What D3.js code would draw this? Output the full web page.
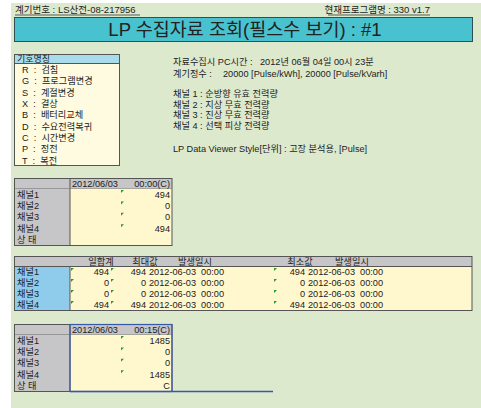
<!DOCTYPE html>
<html><head><meta charset="utf-8">
<script src="https://cdn.jsdelivr.net/npm/d3@7"></script>
<style>
html,body{margin:0;padding:0;background:#fff;}
svg text{font-family:"Liberation Sans","Noto Sans CJK KR",sans-serif;fill:#222;}
</style></head>
<body>
<svg id="c" width="481" height="408"></svg>
<script>
// ---- data ----
const meterNo = "계기번호 : LS산전-08-217956";
const programName = "현재프로그램명 : 330 v1.7";
const title = "LP 수집자료 조회(필스수 보기) : #1";
const legendTitle = "기호명칭";
const legendCodes = ["R","G","S","X","B","D","C","P","T"];
const legendNames = ["검침","프로그램변경","계절변경","결상","배터리교체","수요전력복귀","시간변경","정전","복전"];
const infoLabels = ["자료수집시 PC시간 :","계기정수 :"];
const infoValues = ["2012년 06월 04일 00시 23분","20000 [Pulse/kWh], 20000 [Pulse/kVarh]"];
const channelDesc = ["채널 1 : 순방향 유효 전력량","채널 2 : 지상 무효 전력량","채널 3 : 진상 무효 전력량","채널 4 : 선택 피상 전력량"];
const viewerStyle = "LP Data Viewer Style[단위] : 고장 분석용, [Pulse]";
const channels = ["채널1","채널2","채널3","채널4"];
const rowLabels = ["채널1","채널2","채널3","채널4","상 태"];
const lp1Date = "2012/06/03", lp1Time = "00:00(C)";
const lp1Values = ["494","0","0","494",""];
const lp2Date = "2012/06/03", lp2Time = "00:15(C)";
const lp2Values = ["1485","0","0","1485","C"];
const sumHeaders = ["일합계","최대값","발생일시","최소값","발생일시"];
const dailySum = [494,0,0,494];
const maxVal = [494,0,0,494];
const maxTime = ["2012-06-03  00:00","2012-06-03  00:00","2012-06-03  00:00","2012-06-03  00:00"];
const minVal = [494,0,0,494];
const minTime = ["2012-06-03  00:00","2012-06-03  00:00","2012-06-03  00:00","2012-06-03  00:00"];

// ---- drawing ----
const FS = 9.2;
const svg = d3.select("#c");
const BG = "#dde9cd";
svg.append("rect").attr("x",11).attr("y",3).attr("width",470).attr("height",405).attr("fill",BG);

// header line
svg.append("text").attr("x",15).attr("y",12.5).attr("font-size",9.5).text(meterNo);
svg.append("line").attr("x1",15).attr("x2",140).attr("y1",15).attr("y2",15).attr("stroke","#333").attr("stroke-width",0.8);
svg.append("text").attr("x",430).attr("y",12.5).attr("font-size",9.5).attr("text-anchor","end").text(programName);
svg.append("line").attr("x1",328).attr("x2",430).attr("y1",15).attr("y2",15).attr("stroke","#333").attr("stroke-width",0.8);

// title box
svg.append("rect").attr("x",14.5).attr("y",17.5).attr("width",458).attr("height",24).attr("fill","#48c2cf").attr("stroke","#2d4f55").attr("stroke-width",1);
svg.append("text").attr("x",245).attr("y",36).attr("font-size",18.5).attr("text-anchor","middle").attr("fill","#1a1a1a").text(title);

// legend box
const lg = svg.append("g");
lg.append("rect").attr("x",14.5).attr("y",54.5).attr("width",105).attr("height",111).attr("fill","#fffbe0").attr("stroke","#555");
lg.append("rect").attr("x",14.5).attr("y",54.5).attr("width",105).attr("height",9).attr("fill","#a9dcea").attr("stroke","#555");
lg.append("text").attr("x",17).attr("y",62).attr("font-size",9).text(legendTitle);
const ly = d3.scaleBand().domain(d3.range(legendCodes.length)).range([64,166]);
legendCodes.forEach((c,i)=>{
  const y = ly(i)+ly.bandwidth()/2+3.3;
  lg.append("text").attr("x",22).attr("y",y).attr("font-size",FS).style("white-space","pre").text(c+"  :  "+legendNames[i]);
});

// info text
const ig = svg.append("g");
infoLabels.forEach((t,i)=>{
  ig.append("text").attr("x",173).attr("y",65+i*11.5).attr("font-size",FS).text(t);
});
ig.append("text").attr("x",260).attr("y",65).attr("font-size",FS).text(infoValues[0]);
ig.append("text").attr("x",223).attr("y",76.5).attr("font-size",FS).text(infoValues[1]);
const cy = d3.scaleLinear().domain([0,3]).range([97,129]);
channelDesc.forEach((t,i)=>{
  ig.append("text").attr("x",173).attr("y",cy(i)).attr("font-size",FS).text(t);
});
ig.append("text").attr("x",173).attr("y",152).attr("font-size",FS).text(viewerStyle);

// green error markers
function marker(g,x,y){
  g.append("path").attr("d",`M${x},${y}l3,0l-3,3z`).attr("fill","#2a9a2a");
}

// LP tables
function lpTable(top, date, time, values, blue){
  const g = svg.append("g");
  const x0 = 14.5, xm = 70, x1 = 172;
  const y = d3.scaleBand().domain(rowLabels).range([top+10, top+10+rowLabels.length*11.4]);
  const bottom = y.range()[1];
  g.append("rect").attr("x",x0).attr("y",top).attr("width",xm-x0).attr("height",bottom-top).attr("fill","#c6c6c8");
  g.append("rect").attr("x",xm).attr("y",top).attr("width",x1-xm).attr("height",10).attr("fill","#c6c6c8");
  g.append("rect").attr("x",xm).attr("y",top+10).attr("width",x1-xm).attr("height",bottom-top-10).attr("fill","#fff8cf");
  g.append("rect").attr("x",x0).attr("y",top).attr("width",x1-x0).attr("height",bottom-top).attr("fill","none").attr("stroke","#555");
  g.append("line").attr("x1",xm).attr("x2",xm).attr("y1",top).attr("y2",bottom).attr("stroke","#555");
  g.append("line").attr("x1",x0).attr("x2",x1).attr("y1",top+10).attr("y2",top+10).attr("stroke","#777").attr("stroke-width",0.6);
  if(blue){
    g.append("rect").attr("x",xm).attr("y",top).attr("width",x1-xm).attr("height",bottom-top).attr("fill","none").attr("stroke","#3a58a8").attr("stroke-width",1.2);
    g.append("line").attr("x1",xm).attr("x2",273).attr("y1",bottom).attr("y2",bottom).attr("stroke","#3a58a8").attr("stroke-width",1.4);
  }
  g.append("text").attr("x",72).attr("y",top+8).attr("font-size",FS).text(date);
  g.append("text").attr("x",170).attr("y",top+8).attr("font-size",FS).attr("text-anchor","end").text(time);
  rowLabels.forEach((r,i)=>{
    const yy = y(r)+y.bandwidth()/2+3.3;
    g.append("text").attr("x",17).attr("y",yy).attr("font-size",FS).attr("fill","#333").text(r);
    if(values[i]!=="") g.append("text").attr("x",170).attr("y",yy).attr("font-size",FS).attr("text-anchor","end").text(values[i]);
    if(i<4) marker(g,121,y(r)+1.5);
  });
}
lpTable(178.5, lp1Date, lp1Time, lp1Values, false);
lpTable(324.5, lp2Date, lp2Time, lp2Values, true);

// summary table
(function(){
  const g = svg.append("g");
  const x0 = 14.5, xm = 70, x1 = 472;
  const top = 256.5;
  const y = d3.scaleBand().domain(channels).range([top+10, top+10+channels.length*11]);
  const bottom = y.range()[1];
  g.append("rect").attr("x",x0).attr("y",top).attr("width",x1-x0).attr("height",10).attr("fill","#c6c6c8");
  g.append("rect").attr("x",x0).attr("y",top+10).attr("width",xm-x0).attr("height",bottom-top-10).attr("fill","#8fcbea");
  g.append("rect").attr("x",xm).attr("y",top+10).attr("width",x1-xm).attr("height",bottom-top-10).attr("fill","#fff8cf");
  g.append("rect").attr("x",x0).attr("y",top).attr("width",x1-x0).attr("height",bottom-top).attr("fill","none").attr("stroke","#555");
  g.append("line").attr("x1",xm).attr("x2",xm).attr("y1",top+10).attr("y2",bottom).attr("stroke","#555");
  g.append("line").attr("x1",x0).attr("x2",x1).attr("y1",top+10).attr("y2",top+10).attr("stroke","#555");
  const hx = [101,145,195,300,352];
  sumHeaders.forEach((h,i)=>{
    g.append("text").attr("x",hx[i]).attr("y",top+8).attr("font-size",FS).attr("text-anchor","middle").text(h);
  });
  channels.forEach((c,i)=>{
    const yy = y(c)+y.bandwidth()/2+3.3;
    g.append("text").attr("x",17).attr("y",yy).attr("font-size",FS).attr("fill","#333").text(c);
    g.append("text").attr("x",109).attr("y",yy).attr("font-size",FS).attr("text-anchor","end").text(dailySum[i]);
    g.append("text").attr("x",146).attr("y",yy).attr("font-size",FS).attr("text-anchor","end").text(maxVal[i]);
    g.append("text").attr("x",149).attr("y",yy).attr("font-size",FS).style("white-space","pre").text(maxTime[i]);
    g.append("text").attr("x",305).attr("y",yy).attr("font-size",FS).attr("text-anchor","end").text(minVal[i]);
    g.append("text").attr("x",308).attr("y",yy).attr("font-size",FS).style("white-space","pre").text(minTime[i]);
    marker(g,71,y(c)+1.5);
    marker(g,111,y(c)+1.5);
    marker(g,274,y(c)+1.5);
  });
})();
</script>
</body></html>
